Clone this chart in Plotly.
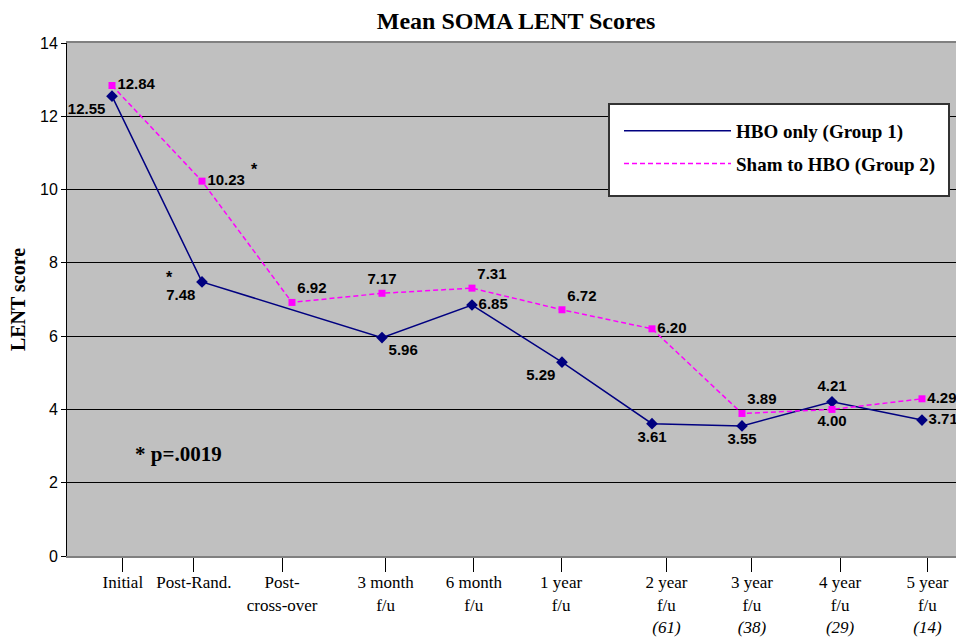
import plotly.graph_objects as go

# ---------------- data ----------------
categories = ["Initial", "Post-Rand.", "Post-<br>cross-over", "3 month<br>f/u", "6 month<br>f/u",
              "1 year<br>f/u", "2 year<br>f/u<br><i>(61)</i>", "3 year<br>f/u<br><i>(38)</i>",
              "4 year<br>f/u<br><i>(29)</i>", "5 year<br>f/u<br><i>(14)</i>"]
group1_name = "HBO only (Group 1)"
group2_name = "Sham to HBO (Group 2)"
group1 = [12.55, 7.48, None, 5.96, 6.85, 5.29, 3.61, 3.55, 4.21, 3.71]
group2 = [12.84, 10.23, 6.92, 7.17, 7.31, 6.72, 6.20, 3.89, 4.00, 4.29]
y_ticks = [0, 2, 4, 6, 8, 10, 12, 14]

# ---------------- style ----------------
x_idx = list(range(len(categories)))
tick_shift = [0.12, -0.09, -0.11, 0.04, 0.02, -0.01, 0.16, 0.11, 0.09, 0.06]
g1_pos = ["bottom left", "bottom left", "middle right", "bottom right", "middle right",
          "bottom left", "bottom center", "bottom center", "top center", "middle right"]
g2_pos = ["middle right", "middle right", "top right", "top center", "top right",
          "top right", "middle right", "top right", "bottom center", "middle right"]

BLUE = "#000080"
PINK = "#FF00FF"
SERIF = "Times New Roman, Liberation Serif, serif"
SANS = "Arial, Liberation Sans, sans-serif"

W, H = 956, 639
ML, MR, MT, MB = 67, 0, 43, 83
PW, PH = W - ML - MR, H - MT - MB


def px_to_paper_x(px):
    return (px - ML) / PW


def px_to_paper_y(py):
    return (H - MB - py) / PH


def fmt(v):
    return "" if v is None else f"{v:.2f}"


fig = go.Figure()

# lines (legend entries)
fig.add_trace(go.Scatter(x=x_idx, y=group1, mode="lines", name=group1_name,
                         connectgaps=True, legendgroup="g1",
                         line=dict(color=BLUE, width=1.5)))
fig.add_trace(go.Scatter(x=x_idx, y=group2, mode="lines", name=group2_name,
                         connectgaps=True, legendgroup="g2",
                         line=dict(color=PINK, width=1.5, dash="5px,3px")))
# markers + value labels
fig.add_trace(go.Scatter(x=x_idx, y=group1, mode="markers+text", showlegend=False,
                         marker=dict(symbol="diamond", size=9, color=BLUE),
                         text=[fmt(v) for v in group1], textposition=g1_pos,
                         textfont=dict(family=SANS, size=15, color="#000000", weight="bold")))
fig.add_trace(go.Scatter(x=x_idx, y=group2, mode="markers+text", showlegend=False,
                         marker=dict(symbol="square", size=7, color=PINK),
                         text=[fmt(v) for v in group2], textposition=g2_pos,
                         textfont=dict(family=SANS, size=15, color="#000000", weight="bold")))

# significance asterisks
fig.add_annotation(x=x_idx[1], y=group1[1], text="*", showarrow=False, xshift=-33, yshift=4,
                   font=dict(family=SANS, size=16, color="#000000", weight="bold"))
fig.add_annotation(x=x_idx[1], y=group2[1], text="*", showarrow=False, xshift=52, yshift=12,
                   font=dict(family=SANS, size=16, color="#000000", weight="bold"))
fig.add_annotation(xref="paper", yref="paper", x=px_to_paper_x(133), y=px_to_paper_y(454),
                   xanchor="left", yanchor="middle",
                   text="* p=.0019", showarrow=False,
                   font=dict(family=SERIF, size=21, color="#000000", weight="bold"))

# legend frame
fig.add_shape(type="rect", xref="paper", yref="paper", layer="above",
              x0=px_to_paper_x(609), x1=px_to_paper_x(949),
              y0=px_to_paper_y(196), y1=px_to_paper_y(104),
              fillcolor="white", line=dict(color="#333333", width=2))

fig.update_layout(
    width=W, height=H,
    margin=dict(l=ML, r=MR, t=MT, b=MB, autoexpand=False),
    paper_bgcolor="white", plot_bgcolor="#C0C0C0",
    title=dict(text="<b>Mean SOMA LENT Scores</b>", xref="container", yref="container",
               x=516 / W, xanchor="center", y=1 - 21 / H, yanchor="middle",
               font=dict(family=SERIF, size=24, color="#000000")),
    legend=dict(x=px_to_paper_x(619), y=px_to_paper_y(112), xanchor="left", yanchor="top",
                bgcolor="rgba(0,0,0,0)", borderwidth=0,
                font=dict(family=SERIF, size=19, color="#000000", weight="bold"),
                itemwidth=107, tracegroupgap=5),
    showlegend=True,
)
fig.update_xaxes(range=[-0.5, 9.378], tickmode="array",
                 tickvals=[i + s for i, s in zip(x_idx, tick_shift)], ticktext=categories,
                 ticks="outside", ticklen=14, tickcolor="#000000", tickwidth=1,
                 ticklabelstandoff=-4,
                 showgrid=False, zeroline=False, showline=True, linecolor="#808080",
                 linewidth=2, mirror=True, automargin=False,
                 tickfont=dict(family=SERIF, size=17, color="#000000"))
fig.update_yaxes(range=[0, 14], tickmode="array", tickvals=y_ticks,
                 ticks="outside", ticklen=5, tickcolor="#000000", tickwidth=1,
                 showgrid=True, gridcolor="#000000", gridwidth=1, zeroline=False,
                 showline=True, linecolor="#000000", linewidth=1, automargin=False,
                 tickfont=dict(family=SANS, size=16, color="#000000"),
                 title=dict(text="<b>LENT score</b>", standoff=9,
                            font=dict(family=SERIF, size=20, color="#000000")))

fig.write_html("out.html", config={"displayModeBar": False},
               post_script="document.body.style.margin='0px';")
